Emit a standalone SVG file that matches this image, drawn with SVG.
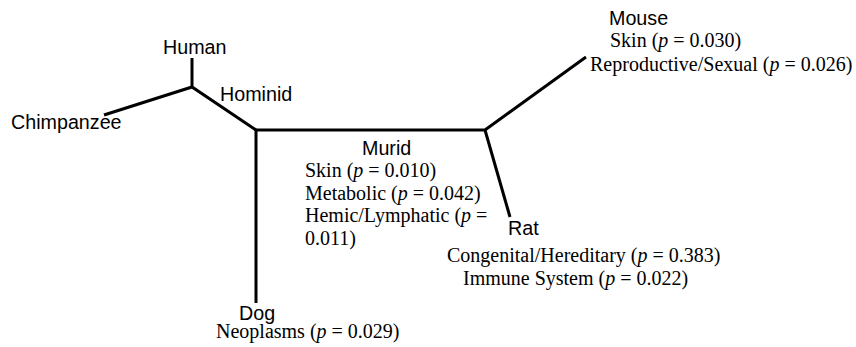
<svg xmlns="http://www.w3.org/2000/svg" width="856" height="347" viewBox="0 0 856 347">
<style>
.br{stroke:#000;stroke-width:3;fill:none;stroke-linecap:butt;stroke-linejoin:miter}
.s{font-family:"Liberation Sans",Arial,sans-serif;font-size:19.7px;fill:#000}
.t{font-family:"Liberation Serif","Times New Roman",serif;font-size:20px;fill:#000}
</style>
<rect width="856" height="347" fill="#fff"/>
<g id="connectors">
<polyline class="br" points="192,58 192,87"/>
<polyline class="br" points="104,115 192,87 256,130"/>
<polyline class="br" points="256,303 256,130 485,130 586,57"/>
<polyline class="br" points="485,130 510,217"/>
</g>
<g id="human"><text class="s" x="163" y="54">Human</text></g>
<g id="chimpanzee"><text class="s" x="11" y="129">Chimpanzee</text></g>
<g id="hominid"><text class="s" x="220" y="101">Hominid</text></g>
<g id="murid">
<text class="s" x="362" y="155">Murid</text>
<text class="t" x="305" y="177">Skin (<tspan font-style="italic">p</tspan> = 0.010)</text>
<text class="t" x="305" y="200">Metabolic (<tspan font-style="italic">p</tspan> = 0.042)</text>
<text class="t" x="305" y="222">Hemic/Lymphatic (<tspan font-style="italic">p</tspan> =</text>
<text class="t" x="305" y="245">0.011)</text>
</g>
<g id="mouse">
<text class="s" x="609" y="25">Mouse</text>
<text class="t" x="610" y="47">Skin (<tspan font-style="italic">p</tspan> = 0.030)</text>
<text class="t" x="590" y="71">Reproductive/Sexual (<tspan font-style="italic">p</tspan> = 0.026)</text>
</g>
<g id="rat">
<text class="s" x="508" y="235">Rat</text>
<text class="t" x="447" y="262">Congenital/Hereditary (<tspan font-style="italic">p</tspan> = 0.383)</text>
<text class="t" x="463" y="285">Immune System (<tspan font-style="italic">p</tspan> = 0.022)</text>
</g>
<g id="dog">
<text class="s" x="239" y="320">Dog</text>
<text class="t" x="216" y="338">Neoplasms (<tspan font-style="italic">p</tspan> = 0.029)</text>
</g>
</svg>
